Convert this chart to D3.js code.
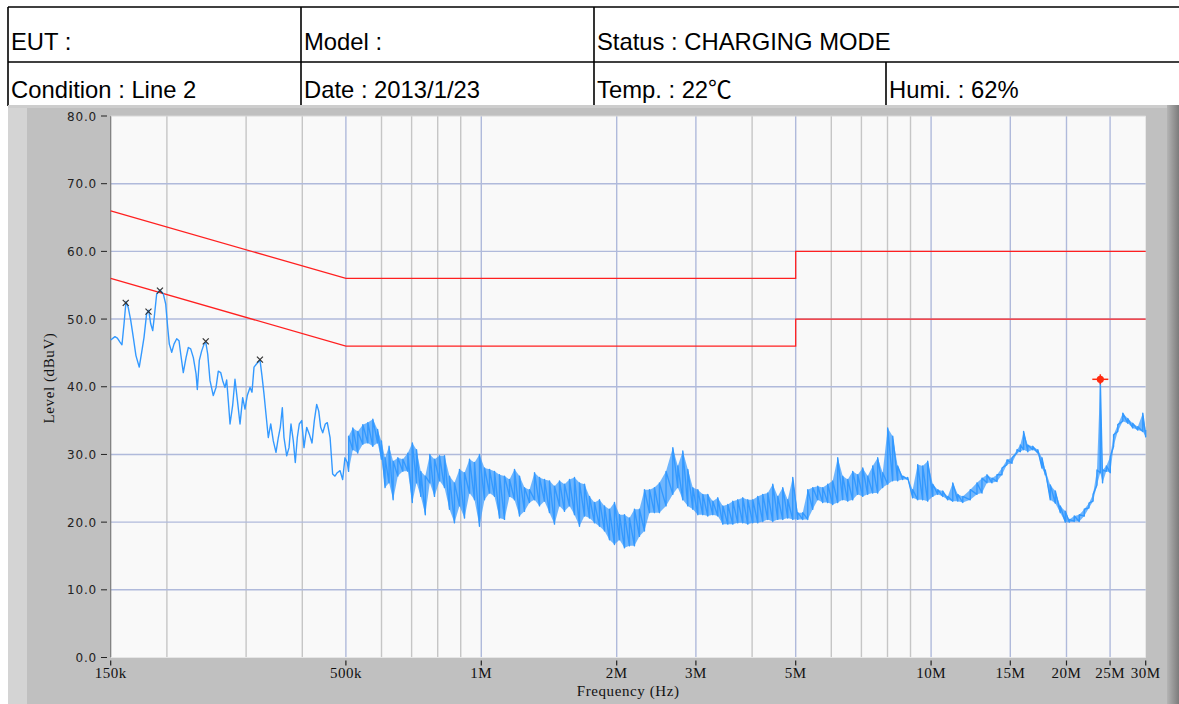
<!DOCTYPE html>
<html><head><meta charset="utf-8">
<script src="https://cdn.jsdelivr.net/npm/d3@7/dist/d3.min.js"></script>
<style>body{margin:0;background:#fff;}svg{display:block}</style>
</head><body>
<svg id="c" width="1179" height="704"></svg>
<script>
// ---------- data ----------
const headerRow1 = ["EUT :", "Model :", "Status : CHARGING MODE"];
const headerRow2 = ["Condition : Line 2", "Date : 2013/1/23", "Temp. : 22℃", "Humi. : 62%"];

const freqTicks = [0.15, 0.5, 1, 2, 3, 5, 10, 15, 20, 25, 30];            // MHz
const freqTickLabels = ["150k","500k","1M","2M","3M","5M","10M","15M","20M","25M","30M"];
const freqMinor = [0.2, 0.3, 0.4, 0.6, 0.7, 0.8, 0.9, 4, 6, 7, 8, 9];
const levelTicks = [0, 10, 20, 30, 40, 50, 60, 70, 80];

const limitQP = [[0.15,66],[0.5,56],[5,56],[5,60],[30,60]];
const limitAV = [[0.15,56],[0.5,46],[5,46],[5,50],[30,50]];

const peakMarks = [[0.162,52.4],[0.182,51.1],[0.193,54.2],[0.244,46.7],[0.322,44.0]];
const maxMark = [23.78, 41.1];

// low-frequency sweep: [MHz, dBuV]
const sweepLow = [
[0.1500,46.9],[0.1533,47.4],[0.1552,47.2],[0.1573,46.6],[0.1589,46.2],[0.1606,49.3],[0.1622,52.6],
[0.1641,51.7],[0.1662,49.8],[0.1684,47.3],[0.1707,44.6],[0.1736,42.9],[0.1758,45.1],[0.1779,47.3],
[0.1803,50.8],[0.1822,51.3],[0.1841,49.3],[0.1860,48.3],[0.1875,50.3],[0.1898,53.7],[0.1931,54.3],
[0.1964,53.7],[0.1988,52.2],[0.2008,48.8],[0.2025,46.3],[0.2050,45.1],[0.2074,46.3],[0.2103,47.1],
[0.2128,46.8],[0.2147,44.8],[0.2175,42.1],[0.2206,44.3],[0.2232,45.8],[0.2259,45.6],[0.2290,44.3],
[0.2322,41.9],[0.2337,39.6],[0.2361,43.9],[0.2390,45.3],[0.2419,46.3],[0.2440,46.6],[0.2465,44.8],
[0.2494,40.9],[0.2536,38.7],[0.2572,39.9],[0.2602,42.3],[0.2634,42.1],[0.2661,40.9],[0.2693,39.9],
[0.2716,41.0],[0.2739,37.9],[0.2763,34.5],[0.2800,37.2],[0.2834,41.1],[0.2867,38.2],[0.2908,34.5],
[0.2948,38.4],[0.2983,36.7],[0.3018,38.7],[0.3061,39.9],[0.3092,39.2],[0.3124,42.9],[0.3167,43.4],
[0.3222,43.9],[0.3254,41.6],[0.3288,38.9],[0.3322,35.9],[0.3361,32.5],[0.3403,34.5],[0.3448,32.0],
[0.3496,30.3],[0.3538,32.5],[0.3574,34.0],[0.3611,36.9],[0.3642,32.5],[0.3693,29.8],[0.3737,31.0],
[0.3775,34.5],[0.3820,32.0],[0.3859,28.8],[0.3899,32.5],[0.3939,34.5],[0.3988,35.0],[0.4035,31.0],
[0.4091,34.0],[0.4146,33.0],[0.4204,31.7],[0.4254,35.0],[0.4306,37.4],[0.4351,36.4],[0.4395,34.0],
[0.4441,33.2],[0.4500,34.5],[0.4546,34.7],[0.4611,32.5],[0.4672,27.1],[0.4728,26.8],[0.4784,27.3],
[0.4853,27.6],[0.4918,26.3],[0.4976,29.5],[0.5035,28.8]
];

// higher-frequency sweep, per display bin: [MHz, max dBuV, min dBuV]
const sweepHigh = [
[0.5070,32.7,27.5],[0.5180,33.9,30.7],[0.5314,33.4,30.2],[0.5452,34.4,31.5],[0.5594,34.7,31.7],
[0.5739,35.2,31.2],[0.5880,33.7,31.7],[0.5996,32.0,29.3],[0.6110,29.5,25.1],[0.6237,31.2,25.8],
[0.6368,29.0,23.3],[0.6523,29.5,26.8],[0.6692,29.3,27.5],[0.6865,30.2,27.5],[0.7025,31.7,22.9],
[0.7178,30.7,25.8],[0.7337,27.5,23.8],[0.7508,26.8,21.1],[0.7683,30.0,25.8],[0.7870,29.3,23.8],
[0.8074,29.8,26.1],[0.8283,29.8,25.1],[0.8497,26.8,21.9],[0.8717,25.8,19.9],[0.8944,27.8,22.4],
[0.9177,27.3,20.6],[0.9414,29.3,24.3],[0.9658,28.8,23.3],[0.9908,30.0,19.4],[1.0165,28.0,23.3],
[1.0429,27.8,24.3],[1.0699,27.5,23.8],[1.0977,27.0,20.6],[1.1261,26.8,20.4],[1.1554,26.3,23.8],
[1.1853,27.8,23.3],[1.2160,26.8,20.9],[1.2475,25.1,21.6],[1.2799,24.8,22.9],[1.3131,27.3,23.3],
[1.3471,26.6,22.4],[1.3820,26.3,23.1],[1.4178,26.1,21.4],[1.4546,25.3,19.7],[1.4923,26.1,22.4],
[1.5310,25.6,21.6],[1.5706,26.3,22.4],[1.6113,26.6,21.1],[1.6531,25.8,19.4],[1.6959,25.6,20.9],
[1.7398,23.8,20.6],[1.7849,22.9,19.9],[1.8312,23.3,19.4],[1.8787,22.4,18.7],[1.9273,21.9,17.4],
[1.9773,22.9,16.7],[2.0285,21.1,17.4],[2.0811,21.1,16.2],[2.1350,20.6,16.5],[2.1903,21.9,16.5],
[2.2471,21.9,17.9],[2.3053,24.8,18.7],[2.3650,24.8,21.4],[2.4263,25.1,21.4],[2.4892,25.8,21.4],
[2.5747,27.5,22.4],[2.6656,31.0,24.1],[2.7346,28.3,25.1],[2.8055,30.5,23.3],[2.8782,27.8,22.4],
[2.9528,25.1,21.9],[3.0293,24.8,21.1],[3.1077,24.1,21.1],[3.1883,24.1,20.9],[3.2709,23.1,21.1],
[3.3557,23.6,20.9],[3.4426,22.4,19.7],[3.5318,22.6,19.7],[3.6233,23.1,19.7],[3.7172,23.3,19.9],
[3.8135,23.6,19.9],[3.9123,23.3,19.7],[4.0137,23.3,19.9],[4.1177,23.8,19.9],[4.2244,24.1,20.1],
[4.3338,24.3,20.4],[4.4461,25.6,20.1],[4.5613,23.8,20.4],[4.6795,25.1,20.4],[4.8008,23.3,20.6],
[4.9252,26.6,20.4],[5.0528,21.4,20.4],[5.1837,21.4,20.4],[5.3180,24.8,20.4],[5.4558,25.1,21.9],
[5.5972,25.3,23.3],[5.7422,25.1,22.9],[5.8910,25.6,22.9],[6.0436,26.1,22.6],[6.2002,29.5,22.9],
[6.3609,26.8,23.3],[6.5257,26.3,23.1],[6.6948,27.5,23.3],[6.8683,27.0,24.1],[7.0462,28.0,23.8],
[7.2288,26.8,24.1],[7.4161,28.3,24.3],[7.6083,29.5,24.3],[7.8054,27.3,25.1],[8.0077,33.9,25.6],
[8.2152,32.7,26.1],[8.4281,28.3,26.1],[8.6464,26.8,26.3],[8.8705,26.6,26.3],[9.1003,24.8,23.6],
[9.3361,28.5,23.3],[9.5780,28.3,23.3],[9.8262,29.0,23.1],[10.087,25.6,23.8],[10.349,24.8,24.1],
[10.617,24.6,23.8],[10.892,23.8,23.3],[11.174,25.8,23.1],[11.464,24.1,23.1],[11.761,23.8,22.9],
[12.221,24.8,23.3],[12.648,25.8,24.1],[12.976,26.5,24.3],[13.313,27.0,25.8],[13.657,26.5,25.8],
[14.012,27.0,26.0],[14.375,28.0,27.0],[14.748,29.2,28.5],[15.130,29.5,28.7],[15.523,30.7,30.2],
[15.787,31.4,30.4],[16.057,33.4,30.7],[16.406,31.4,30.4],[16.831,31.2,30.7],[17.267,30.7,30.2],
[17.642,29.5,28.0],[17.943,27.7,27.0],[18.408,25.5,23.3],[18.885,24.6,22.8],[19.374,22.4,21.4],
[19.875,21.6,20.0],[20.287,20.4,20.0],[20.813,20.9,20.1],[21.352,21.1,20.1],[21.905,21.9,20.9],
[22.438,22.8,22.1],[22.914,24.1,23.1],[23.377,27.7,25.5],[23.776,41.1,27.3],[24.058,27.7,25.8],
[24.519,28.3,27.5],[25.027,29.7,27.3],[25.454,32.9,31.2],[26.006,34.4,33.4],[26.681,36.1,34.9],
[27.372,35.3,34.6],[28.080,34.6,33.9],[28.807,34.1,33.6],[29.555,36.1,33.4],[30.0,33.6,32.6]
];

// ---------- drawing ----------
const svg = d3.select("#c");
const W = 1179, H = 704;
const PL = 110.7, PR = 1145.7, PT = 116, PB = 657.5;

// header table
const hdr = svg.append("g");
const sansHdr = "'Liberation Sans', Arial, 'Noto Sans CJK TC', sans-serif";
const col1 = [8, 301, 594], col2 = [8, 301, 594, 886];
headerRow1.forEach((t, i) => hdr.append("text").attr("x", col1[i] + 3).attr("y", 50)
  .attr("font-family", sansHdr).attr("font-size", 23.8).attr("fill", "#000").text(t));
headerRow2.forEach((t, i) => hdr.append("text").attr("x", col2[i] + 3).attr("y", 98)
  .attr("font-family", sansHdr).attr("font-size", 23.8).attr("fill", "#000").text(t));
const ln = (x1,y1,x2,y2) => hdr.append("line").attr("x1",x1).attr("y1",y1).attr("x2",x2).attr("y2",y2)
  .attr("stroke","#000").attr("stroke-width",1.6);
ln(8, 7, W, 7); ln(8, 62, W, 62);
ln(8, 7, 8, 106); ln(301, 7, 301, 106); ln(594, 7, 594, 106); ln(886, 62, 886, 106);

// gray panel
const defs = svg.append("defs");
const g1 = defs.append("linearGradient").attr("id","rg").attr("x1","0").attr("x2","1");
g1.append("stop").attr("offset","0").attr("stop-color","#b4b4b4");
g1.append("stop").attr("offset","1").attr("stop-color","#7c7c7c");
svg.append("rect").attr("x",8).attr("y",105).attr("width",W-8).attr("height",H-105).attr("fill","#c0c0c0");
svg.append("rect").attr("x",8).attr("y",105).attr("width",19).attr("height",H-105).attr("fill","#d4d4d4");
svg.append("rect").attr("x",8).attr("y",105).attr("width",W-8).attr("height",3).attr("fill","#cdcdcd");
svg.append("rect").attr("x",1167).attr("y",105).attr("width",12).attr("height",H-105).attr("fill","url(#rg)");

// plot area
svg.append("rect").attr("x",PL).attr("y",PT).attr("width",PR-PL).attr("height",PB-PT).attr("fill","#f9f9f9");

const x = d3.scaleLog().domain([0.15, 30]).range([PL, PR]);
const y = d3.scaleLinear().domain([0, 80]).range([PB, PT]);

const grid = svg.append("g");
grid.selectAll(".vmin").data(freqMinor).join("line")
  .attr("x1", d => x(d)).attr("x2", d => x(d)).attr("y1", PT).attr("y2", PB)
  .attr("stroke", "#c6c6c6").attr("stroke-width", 1.4);
grid.selectAll(".vmaj").data(freqTicks.slice(1, -1)).join("line")
  .attr("x1", d => x(d)).attr("x2", d => x(d)).attr("y1", PT).attr("y2", PB)
  .attr("stroke", "#b0badb").attr("stroke-width", 1.4);
grid.selectAll(".h").data(levelTicks.slice(1, -1)).join("line")
  .attr("x1", PL).attr("x2", PR).attr("y1", d => y(d)).attr("y2", d => y(d))
  .attr("stroke", "#b0badb").attr("stroke-width", 1.4);

// frame
svg.append("line").attr("x1",PL).attr("x2",PL).attr("y1",PT).attr("y2",PB).attr("stroke","#7a7a7a").attr("stroke-width",1.2);
svg.append("line").attr("x1",PL).attr("x2",PR).attr("y1",PT).attr("y2",PT).attr("stroke","#d8d8d8").attr("stroke-width",1);
svg.append("line").attr("x1",PL).attr("x2",PR).attr("y1",PB).attr("y2",PB).attr("stroke","#e6e6e6").attr("stroke-width",1);

// limit lines
const lineGen = d3.line().x(d => x(d[0])).y(d => y(d[1]));
[limitQP, limitAV].forEach(l => svg.append("path").attr("d", lineGen(l))
  .attr("fill","none").attr("stroke","#ff2020").attr("stroke-width",1.3));

// trace: min-max band + sweep line
const band = d3.area().x(d => x(d[0])).y0(d => y(d[2])).y1(d => y(d[1]));
svg.append("path").attr("d", band(sweepHigh)).attr("fill","#3399ff").attr("fill-opacity",0.7);
const tracePts = sweepLow.concat(sweepHigh.flatMap(d => [[d[0], d[2]], [d[0], d[1]]]));
svg.append("path").attr("d", lineGen(tracePts)).attr("fill","none")
  .attr("stroke","#3399ff").attr("stroke-width",1.4).attr("stroke-linejoin","round");

// peak markers (x)
const mk = svg.append("g").attr("stroke","#333").attr("stroke-width",1.2);
peakMarks.forEach(p => {
  const cx = x(p[0]), cy = y(p[1]), s = 3;
  mk.append("line").attr("x1",cx-s).attr("y1",cy-s).attr("x2",cx+s).attr("y2",cy+s);
  mk.append("line").attr("x1",cx-s).attr("y1",cy+s).attr("x2",cx+s).attr("y2",cy-s);
});
// max marker
{
  const cx = x(maxMark[0]), cy = y(maxMark[1]);
  const g = svg.append("g").attr("stroke","#ff2a10").attr("stroke-width",1.5);
  g.append("line").attr("x1",cx-8).attr("x2",cx+8).attr("y1",cy).attr("y2",cy);
  g.append("line").attr("x1",cx).attr("x2",cx).attr("y1",cy-5).attr("y2",cy+5);
  svg.append("circle").attr("cx",cx).attr("cy",cy).attr("r",3.6).attr("fill","#ff2a10");
}

// y axis labels & ticks
const yl = svg.append("g");
levelTicks.forEach(v => {
  yl.append("line").attr("x1",101).attr("x2",107).attr("y1",y(v)).attr("y2",y(v)).attr("stroke","#222").attr("stroke-width",1);
  yl.append("text").attr("x",97).attr("y",y(v)+4.5).attr("text-anchor","end")
    .attr("font-family","'DejaVu Sans', sans-serif").attr("font-size",12).attr("letter-spacing","0.8px")
    .attr("fill","#222").text(v.toFixed(1));
});
// x axis labels & ticks
const xl = svg.append("g");
freqTicks.forEach((v, i) => {
  xl.append("line").attr("x1",x(v)).attr("x2",x(v)).attr("y1",PB+3).attr("y2",PB+8).attr("stroke","#222").attr("stroke-width",1.2);
  xl.append("text").attr("x",x(v)).attr("y",678).attr("text-anchor","middle")
    .attr("font-family","'Liberation Serif', 'Times New Roman', serif").attr("font-size",15).attr("letter-spacing","0.5px")
    .attr("fill","#111").text(freqTickLabels[i]);
});
svg.append("text").attr("x",(PL+PR)/2).attr("y",696).attr("text-anchor","middle")
  .attr("font-family","'Liberation Serif', serif").attr("font-size",15).attr("letter-spacing","0.6px")
  .attr("fill","#111").text("Frequency (Hz)");
svg.append("text").attr("transform","translate(54,378) rotate(-90)").attr("text-anchor","middle")
  .attr("font-family","'Liberation Serif', serif").attr("font-size",15).attr("letter-spacing","0.6px")
  .attr("fill","#111").text("Level (dBuV)");
</script>
</body></html>
